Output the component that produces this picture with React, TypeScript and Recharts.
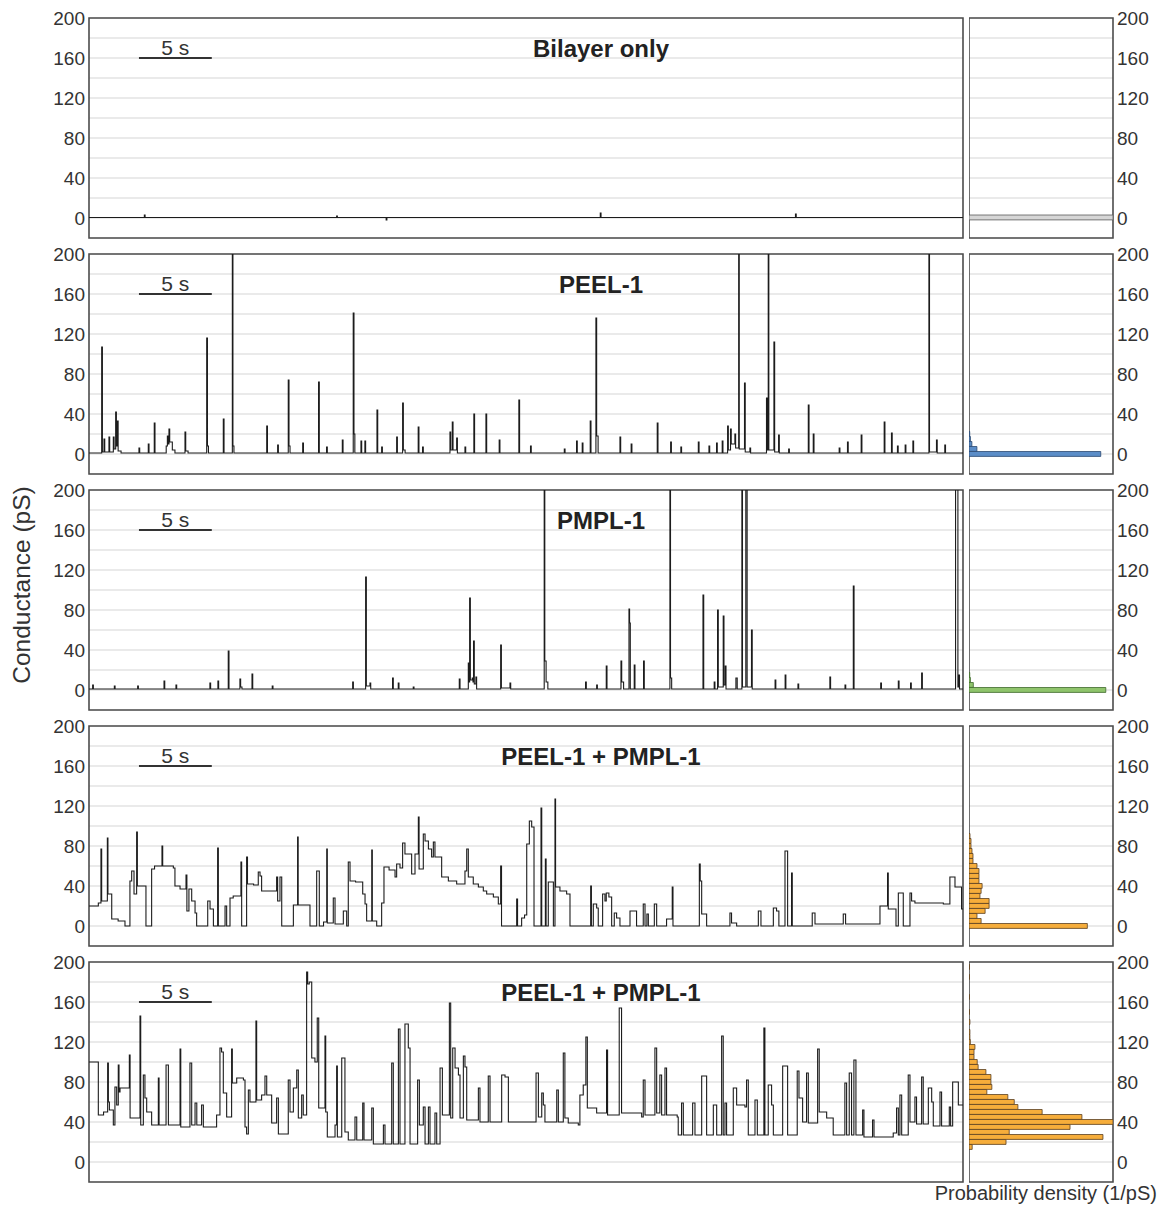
import {
  LineChart,
  Line,
  BarChart,
  Bar,
  XAxis,
  YAxis,
  CartesianGrid,
  ReferenceArea,
  ReferenceLine,
} from 'recharts'

const FONT = '"Liberation Sans", Arial, Helvetica, sans-serif'
const FRAME = '#4d4d4d'
const TEXT = '#333'

// layout of the five stacked rows (page y of the 200 pS line)
const ROW_TOPS = [18, 254, 490, 726, 962]
const TITLES = ['Bilayer only', 'PEEL-1', 'PMPL-1', 'PEEL-1 + PMPL-1', 'PEEL-1 + PMPL-1']

const GRID_TICKS = [0, 20, 40, 60, 80, 100, 120, 140, 160, 180, 200]
const LEFT_MINOR = [20, 60, 100, 140, 180]
const RIGHT_MINOR = [20, 40, 60, 80, 100, 120, 140, 160, 180]

// scale bar, seconds
const SCALE_BAR_START = 3.43
const SCALE_BAR_LEN = 5

// traces: [time (s), conductance (pS)], each level held until the next point
const BILAYER_TRACE = [
  [0, 0.5], [3.8, 3], [3.85, 0.5], [17.0, 2], [17.05, 0.5], [20.4, -2], [20.45, 0.5],
  [35.1, 5], [35.15, 0.5], [48.5, 4], [48.55, 0.5], [60, 0.5],
]

const PEEL_TRACE = [
  [0, 1], [0.87, 107], [0.92, 2], [1.03, 15], [1.08, 2], [1.37, 17], [1.42, 2],
  [1.67, 17], [1.72, 5], [1.83, 42], [1.88, 8], [1.95, 33], [2.0, 3], [2.2, 1],
  [3.43, 6], [3.48, 1], [4.07, 10], [4.12, 1], [4.48, 31], [4.53, 1],
  [5.3, 8], [5.38, 18], [5.43, 10], [5.49, 25], [5.54, 12], [5.72, 4], [5.9, 1],
  [6.59, 22], [6.64, 3], [6.8, 1], [8.08, 116], [8.13, 8], [8.2, 1], [9.22, 35], [9.27, 1],
  [9.84, 205], [9.88, 8], [9.95, 1], [12.2, 28], [12.25, 1], [12.95, 9], [13.0, 1],
  [13.68, 74], [13.73, 8], [13.8, 1], [14.67, 11], [14.72, 1], [15.76, 72], [15.81, 1],
  [16.31, 7], [16.36, 1], [17.39, 14], [17.44, 1], [18.14, 141], [18.19, 20], [18.25, 1],
  [18.67, 13], [18.72, 1], [18.94, 13], [18.99, 1], [19.77, 44], [19.82, 1], [20.09, 7], [20.14, 1],
  [21.12, 17], [21.17, 1], [21.53, 51], [21.58, 4], [21.7, 1], [22.6, 27], [22.65, 1],
  [22.9, 7], [22.95, 1], [24.78, 22], [24.83, 4], [24.94, 32], [24.99, 4], [25.24, 16], [25.29, 1],
  [25.81, 7], [25.86, 1], [26.42, 40], [26.47, 1], [27.25, 40], [27.3, 1], [28.16, 14], [28.21, 1],
  [29.51, 54], [29.56, 1], [30.31, 8], [30.36, 1], [32.63, 5], [32.68, 1], [33.47, 13], [33.52, 1],
  [33.86, 11], [33.91, 1], [34.41, 33], [34.46, 1], [34.8, 136], [34.85, 18], [34.95, 1],
  [36.45, 17], [36.5, 1], [37.22, 10], [37.27, 1], [39.01, 31], [39.06, 1], [39.93, 12], [39.98, 1],
  [40.63, 7], [40.68, 1], [41.83, 12], [41.88, 1], [42.56, 8], [42.61, 1], [43.08, 11], [43.13, 1],
  [43.47, 13], [43.52, 1], [43.84, 28], [43.89, 4], [44.04, 25], [44.09, 10], [44.34, 20], [44.39, 6],
  [44.6, 205], [44.64, 5], [45.0, 71], [45.05, 2], [45.37, 6], [45.42, 1],
  [46.51, 56], [46.56, 4], [46.63, 205], [46.67, 4], [47.02, 112], [47.07, 2], [47.34, 19], [47.39, 1],
  [48.03, 5], [48.08, 1], [49.38, 49], [49.43, 1], [49.72, 20], [49.77, 1], [51.5, 6], [51.55, 1],
  [52.07, 12], [52.12, 1], [53.01, 19], [53.06, 1], [54.59, 32], [54.64, 1], [55.09, 21], [55.14, 1],
  [55.5, 8], [55.55, 1], [56.03, 9], [56.08, 1], [56.56, 13], [56.61, 1], [57.66, 205], [57.7, 2],
  [58.18, 14], [58.23, 1], [58.75, 9], [58.8, 1], [60, 1],
]

const PMPL_TRACE = [
  [0, 1], [0.25, 5], [0.3, 1], [1.74, 4], [1.79, 1], [3.34, 4], [3.39, 1], [5.15, 9], [5.2, 1],
  [5.97, 5], [6.02, 1], [8.3, 7], [8.35, 1], [8.85, 9], [8.9, 1], [9.56, 39], [9.61, 1],
  [10.36, 11], [10.41, 3], [10.5, 1], [11.19, 16], [11.24, 1], [12.58, 4], [12.63, 1],
  [18.1, 8], [18.15, 1], [18.99, 113], [19.04, 4], [19.29, 7], [19.34, 1], [20.84, 12], [20.89, 1],
  [21.23, 7], [21.28, 1], [22.26, 3], [22.31, 1], [25.42, 11], [25.47, 1],
  [26.04, 27], [26.09, 8], [26.13, 92], [26.18, 10], [26.31, 12], [26.36, 8], [26.4, 49], [26.45, 6],
  [26.56, 13], [26.61, 1], [28.26, 45], [28.31, 2], [28.9, 7], [28.95, 1],
  [31.25, 205], [31.29, 29], [31.38, 8], [31.5, 1], [34.09, 8], [34.14, 1], [34.85, 5], [34.9, 1],
  [35.51, 24], [35.56, 1], [36.52, 29], [36.57, 8], [36.7, 1], [37.07, 81], [37.11, 67], [37.16, 1],
  [37.43, 25], [37.48, 1], [38.07, 29], [38.12, 1], [39.88, 205], [39.92, 12], [40.0, 1],
  [42.15, 95], [42.2, 1], [42.92, 8], [42.97, 1], [43.15, 80], [43.2, 3], [43.54, 74], [43.59, 5],
  [43.68, 24], [43.73, 1], [44.41, 12], [44.5, 1], [44.82, 205], [44.86, 3], [45.09, 205], [45.18, 3],
  [45.48, 60], [45.53, 1], [47.1, 10], [47.15, 1], [47.79, 15], [47.84, 1], [48.67, 6], [48.72, 1],
  [50.86, 13], [50.91, 1], [51.9, 5], [51.95, 1], [52.47, 104], [52.52, 1], [54.35, 7], [54.4, 1],
  [55.56, 9], [55.61, 1], [56.4, 7], [56.45, 1], [57.16, 17], [57.21, 1],
  [59.49, 205], [59.65, 3], [59.71, 15], [59.76, 1], [60, 1],
]

const MIX_TRACE_A = [
  [0, 20], [0.64, 23], [0.82, 77], [0.87, 25], [1.26, 88], [1.3, 32], [1.56, 7], [2.0, 5], [2.47, 0],
  [2.81, 45], [2.93, 55], [3.09, 32], [3.27, 94], [3.32, 40], [3.91, 0], [4.3, 57], [4.5, 60],
  [5.01, 80], [5.06, 60], [5.79, 58], [5.9, 40], [6.25, 37], [6.66, 51], [6.72, 15], [6.86, 37],
  [7.05, 25], [7.28, 13], [7.39, 0], [8.15, 25], [8.31, 17], [8.54, 0], [8.83, 78], [8.88, 0],
  [9.34, 20], [9.45, 0], [9.68, 28], [9.9, 30], [10.43, 64], [10.48, 0], [10.82, 69], [10.88, 42],
  [11.3, 41], [11.62, 54], [11.74, 50], [11.85, 35], [12.88, 49], [12.95, 25], [13.11, 49], [13.23, 0],
  [14.03, 21], [14.32, 89], [14.36, 21], [15.17, 0], [15.63, 55], [15.81, 0], [16.1, 4], [16.32, 77],
  [16.36, 3], [16.77, 28], [16.89, 2], [17.46, 15], [17.69, 0], [17.8, 64], [17.92, 45], [18.3, 44],
  [18.79, 32], [18.95, 22], [19.06, 5], [19.41, 76], [19.45, 5], [19.75, 0], [20.09, 23], [20.25, 59],
  [20.6, 56], [21.01, 49], [21.12, 62], [21.35, 58], [21.53, 83], [21.69, 72], [22.15, 52], [22.38, 72],
  [22.61, 109], [22.66, 57], [22.95, 92], [23.07, 85], [23.3, 77], [23.52, 69], [23.64, 84], [23.75, 69],
  [24.21, 49], [24.67, 45], [25.24, 42], [25.81, 55], [25.93, 77], [26.04, 49], [26.38, 42], [26.73, 39],
  [27.07, 35], [27.3, 32], [27.76, 29], [28.1, 22], [28.26, 60], [28.32, 0], [29.36, 27], [29.42, 0],
  [29.7, 8], [29.9, 11], [30.05, 82], [30.23, 105], [30.39, 99], [30.55, 0], [31.03, 118], [31.08, 0],
  [31.33, 67], [31.38, 0], [31.53, 44], [31.88, 0], [31.99, 127], [32.03, 39], [32.33, 35], [32.79, 32],
  [33.02, 0], [34.44, 40], [34.49, 0], [34.62, 22], [34.85, 18], [34.96, 0], [35.26, 32], [35.42, 25],
  [35.51, 33], [35.69, 29], [35.88, 0], [36.06, 13], [36.22, 8], [36.45, 0], [37.14, 15], [37.59, 0],
  [38.05, 22], [38.17, 0], [38.3, 12], [38.4, 0], [38.81, 22], [38.97, 0], [39.65, 7], [40.04, 39],
  [40.09, 0], [41.9, 62], [41.96, 45], [42.06, 12], [42.4, 0], [44.0, 13], [44.11, 3], [44.46, 0],
  [45.95, 15], [46.13, 0], [46.98, 18], [47.2, 15], [47.36, 0], [47.78, 75], [47.96, 0], [48.23, 53],
  [48.28, 0], [49.65, 13], [49.84, 2], [51.78, 12], [51.94, 2], [54.3, 20], [54.82, 53], [54.87, 17],
  [55.4, 0], [55.56, 33], [55.9, 0], [56.36, 33], [56.47, 25], [56.7, 23], [58.65, 22], [59.1, 49],
  [59.45, 39], [59.9, 17], [60, 17],
]

const MIX_TRACE_B = [
  [0, 100], [0.64, 47], [1.0, 50], [1.28, 99], [1.33, 60], [1.4, 52], [1.67, 37], [1.78, 75], [1.9, 57],
  [2.01, 97], [2.06, 70], [2.13, 74], [2.77, 107], [2.82, 44], [3.5, 146], [3.55, 37], [3.73, 87],
  [3.84, 64], [3.96, 50], [4.3, 37], [4.76, 84], [4.81, 37], [5.29, 97], [5.45, 37], [6.25, 113],
  [6.3, 35], [6.93, 99], [7.05, 37], [7.28, 59], [7.4, 37], [7.73, 57], [7.85, 35], [8.76, 47],
  [8.99, 114], [9.1, 110], [9.22, 69], [9.45, 45], [9.79, 113], [9.84, 79], [10.14, 84], [10.6, 82],
  [10.71, 35], [10.82, 28], [10.94, 72], [11.05, 60], [11.46, 141], [11.51, 62], [11.85, 67], [12.08, 86],
  [12.2, 67], [12.54, 39], [12.88, 64], [13.0, 28], [13.68, 82], [13.8, 50], [14.03, 74], [14.26, 92],
  [14.37, 44], [14.6, 67], [14.71, 47], [14.94, 190], [15.01, 178], [15.12, 180], [15.29, 104],
  [15.51, 100], [15.67, 144], [15.77, 54], [16.2, 126], [16.25, 50], [16.36, 25], [16.89, 37],
  [17.0, 96], [17.05, 25], [17.35, 104], [17.57, 30], [17.8, 22], [18.26, 45], [18.38, 22], [18.79, 59],
  [18.88, 22], [19.41, 54], [19.52, 18], [20.21, 37], [20.32, 18], [20.78, 99], [20.89, 18], [21.24, 133],
  [21.35, 18], [21.69, 138], [21.92, 114], [22.04, 18], [22.56, 82], [22.68, 37], [22.95, 55], [23.07, 18],
  [23.3, 55], [23.41, 18], [23.75, 49], [23.87, 18], [24.1, 94], [24.26, 47], [24.74, 159], [24.83, 44],
  [24.97, 114], [25.13, 94], [25.36, 87], [25.47, 44], [25.7, 106], [25.81, 95], [25.93, 42], [26.73, 74],
  [26.84, 40], [27.41, 86], [27.53, 40], [28.33, 87], [28.56, 85], [28.79, 40], [30.69, 89], [30.85, 45],
  [31.08, 69], [31.19, 57], [31.3, 40], [32.11, 72], [32.22, 40], [32.56, 109], [32.67, 44], [32.9, 39],
  [33.59, 37], [33.7, 67], [33.93, 77], [34.11, 125], [34.21, 54], [34.85, 49], [35.53, 112], [35.6, 47],
  [36.4, 154], [36.56, 49], [37.94, 45], [38.05, 82], [38.17, 47], [38.85, 114], [38.97, 49], [39.19, 87],
  [39.31, 47], [39.54, 94], [39.65, 47], [40.38, 45], [40.45, 27], [40.68, 59], [40.8, 27], [41.44, 59],
  [41.6, 27], [42.06, 86], [42.4, 27], [42.86, 57], [43.09, 27], [43.43, 126], [43.54, 27], [43.66, 59],
  [43.77, 27], [44.23, 74], [44.46, 57], [45.03, 55], [45.14, 82], [45.26, 27], [45.72, 62], [45.88, 27],
  [46.33, 134], [46.4, 27], [46.63, 77], [46.86, 57], [46.98, 27], [47.62, 96], [47.96, 27], [48.62, 91],
  [48.74, 64], [48.99, 40], [49.26, 89], [49.38, 39], [50.02, 113], [50.13, 50], [50.64, 44], [51.09, 27],
  [51.89, 79], [52.01, 27], [52.19, 89], [52.35, 27], [52.51, 102], [52.65, 27], [53.11, 52], [53.2, 25],
  [53.79, 42], [53.89, 25], [55.21, 29], [55.44, 54], [55.56, 27], [55.67, 67], [55.79, 27], [56.24, 87],
  [56.36, 40], [56.7, 65], [56.81, 38], [57.16, 85], [57.27, 38], [57.62, 74], [57.85, 60], [57.96, 36],
  [58.42, 70], [58.53, 36], [59.06, 55], [59.15, 36], [59.29, 80], [59.68, 57], [60, 57],
]

// histograms: bin centre (pS) and probability density (1/pS)
const BILAYER_BINS = [1]
const BILAYER_DENSITY = [0.2]

const PEEL_BINS = [0, 5, 10, 15, 20]
const PEEL_DENSITY = [0.183, 0.011, 0.004, 0.002, 0.001]

const PMPL_BINS = [0, 5, 10, 15]
const PMPL_DENSITY = [0.19, 0.006, 0.002, 0.001]

const MIX_A_BINS = [0, 5, 10, 15, 20, 25, 30, 35, 40, 45, 50, 55, 60, 65, 70, 75, 80, 85, 90]
const MIX_A_DENSITY = [
  0.083, 0.0085, 0.0056, 0.0113, 0.0141, 0.0141, 0.0077, 0.0085, 0.0092, 0.007,
  0.007, 0.007, 0.0056, 0.0028, 0.0028, 0.0021, 0.0014, 0.0014, 0.0007,
]

const MIX_B_BINS = [
  15, 20, 25, 30, 35, 40, 45, 50, 55, 60, 65, 70, 75, 80, 85, 90, 95, 100, 105, 110, 115,
  120, 125, 130, 140, 150, 165, 185, 195,
]
const MIX_B_DENSITY = [
  0.0007, 0.0081, 0.0293, 0.0088, 0.0221, 0.0315, 0.0247, 0.016, 0.0107, 0.0099, 0.0085,
  0.0039, 0.005, 0.0048, 0.0048, 0.0037, 0.002, 0.0018, 0.0011, 0.0011, 0.0013,
  0.0003, 0.0002, 0.0002, 0.0002, 0.0001, 0.0001, 0.0001, 0.0001,
]

const ROWS = [
  { trace: BILAYER_TRACE, bins: BILAYER_BINS, density: BILAYER_DENSITY, max: 0.2, fill: '#d6d6d6', edge: '#5a5a5a' },
  { trace: PEEL_TRACE, bins: PEEL_BINS, density: PEEL_DENSITY, max: 0.2, fill: '#5b8dc8', edge: '#2c4a72' },
  { trace: PMPL_TRACE, bins: PMPL_BINS, density: PMPL_DENSITY, max: 0.2, fill: '#8fc46c', edge: '#3f6a2c' },
  { trace: MIX_TRACE_A, bins: MIX_A_BINS, density: MIX_A_DENSITY, max: 0.101, fill: '#f6ad3b', edge: '#5a4022' },
  { trace: MIX_TRACE_B, bins: MIX_B_BINS, density: MIX_B_DENSITY, max: 0.0315, fill: '#f6ad3b', edge: '#5a4022' },
]

const tickFmt = (v: number) => (v % 40 === 0 ? String(v) : '')
const TICK_STYLE = { fill: TEXT, fontSize: 19, fontFamily: FONT }

function Row({ idx }: { idx: number }) {
  const row = ROWS[idx]
  const top = ROW_TOPS[idx]
  const points = row.trace.map(([t, g]) => ({ t, g }))
  const hist = row.bins.map((bin, i) => ({ bin, density: row.density[i] }))

  return (
    <>
      <div style={{ position: 'absolute', left: 0, top: top - 10 }}>
        <LineChart width={973} height={240} data={points} margin={{ top: 10, right: 10, bottom: 10, left: 0 }}>
          <XAxis dataKey="t" type="number" domain={[0, 60]} hide allowDataOverflow />
          <YAxis
            domain={[-20, 200]}
            ticks={GRID_TICKS}
            interval={0}
            tickFormatter={tickFmt}
            width={89}
            allowDataOverflow
            axisLine={false}
            tickLine={false}
            tickSize={0}
            tickMargin={4}
            tick={TICK_STYLE}
          />
          <YAxis yAxisId="ml" orientation="left" mirror domain={[-20, 200]} ticks={LEFT_MINOR} interval={0}
            tick={false} tickSize={9} axisLine={false} tickLine={{ stroke: FRAME, strokeWidth: 1.5 }} width={10} />
          <YAxis yAxisId="mr" orientation="right" mirror domain={[-20, 200]} ticks={RIGHT_MINOR} interval={0}
            tick={false} tickSize={9} axisLine={false} tickLine={{ stroke: FRAME, strokeWidth: 1.5 }} width={10} />
          <CartesianGrid vertical={false} stroke="#e3e3e3" strokeWidth={1.5} />
          <Line type="stepAfter" dataKey="g" stroke="#1c1c1c" strokeWidth={1.1} dot={false} isAnimationActive={false} />
          <ReferenceArea y1={-20} y2={200} fill="none" stroke={FRAME} strokeWidth={1.6} />
          <ReferenceLine
            segment={[{ x: SCALE_BAR_START, y: 160 }, { x: SCALE_BAR_START + SCALE_BAR_LEN, y: 160 }]}
            stroke="#333"
            strokeWidth={2}
            label={{ value: '5 s', position: 'top', offset: 3, fill: TEXT, fontSize: 21, fontFamily: FONT }}
          />
          <ReferenceLine
            segment={[{ x: 30.15, y: 170 }, { x: 40.15, y: 170 }]}
            stroke="none"
            label={{ value: TITLES[idx], position: 'center', fill: '#222', fontSize: 24, fontWeight: 'bold', fontFamily: FONT }}
          />
        </LineChart>
      </div>
      <div style={{ position: 'absolute', left: 969, top: top - 10 }}>
        <BarChart layout="vertical" width={189} height={240} data={hist} margin={{ top: 10, right: 0, bottom: 10, left: 0 }}>
          <XAxis type="number" domain={[0, row.max]} hide allowDataOverflow />
          <YAxis
            type="number"
            dataKey="bin"
            orientation="right"
            reversed
            domain={[-20, 200]}
            ticks={GRID_TICKS}
            interval={0}
            tickFormatter={tickFmt}
            width={45}
            allowDataOverflow
            axisLine={false}
            tickLine={false}
            tickSize={0}
            tickMargin={4}
            tick={TICK_STYLE}
          />
          <YAxis yAxisId="hl" type="number" orientation="left" mirror reversed domain={[-20, 200]} ticks={RIGHT_MINOR} interval={0}
            tick={false} tickSize={3} axisLine={false} tickLine={{ stroke: FRAME, strokeWidth: 1.2 }} width={10} />
          <YAxis yAxisId="hr" type="number" orientation="right" mirror reversed domain={[-20, 200]} ticks={RIGHT_MINOR} interval={0}
            tick={false} tickSize={3} axisLine={false} tickLine={{ stroke: FRAME, strokeWidth: 1.2 }} width={10} />
          <CartesianGrid vertical={false} stroke="#e3e3e3" strokeWidth={1.5} />
          <Bar dataKey="density" fill={row.fill} stroke={row.edge} strokeWidth={0.8} barSize={4.9} isAnimationActive={false} />
          <ReferenceArea y1={-20} y2={200} fill="none" stroke={FRAME} strokeWidth={1.6} />
        </BarChart>
      </div>
    </>
  )
}

export default function App() {
  return (
    <div style={{ position: 'absolute', left: 0, top: 0, width: 1160, height: 1206, background: '#fff', fontFamily: FONT, overflow: 'hidden' }}>
      {ROWS.map((_, i) => (
        <Row key={i} idx={i} />
      ))}
      <div
        style={{
          position: 'absolute', left: -128, top: 570, width: 300, height: 30, lineHeight: '30px',
          textAlign: 'center', fontSize: 24.5, color: TEXT, transform: 'rotate(-90deg)', whiteSpace: 'nowrap',
        }}
      >
        Conductance (pS)
      </div>
      <div style={{ position: 'absolute', right: 3, top: 1183, fontSize: 20, lineHeight: '20px', color: TEXT, whiteSpace: 'nowrap' }}>
        Probability density (1/pS)
      </div>
    </div>
  )
}
